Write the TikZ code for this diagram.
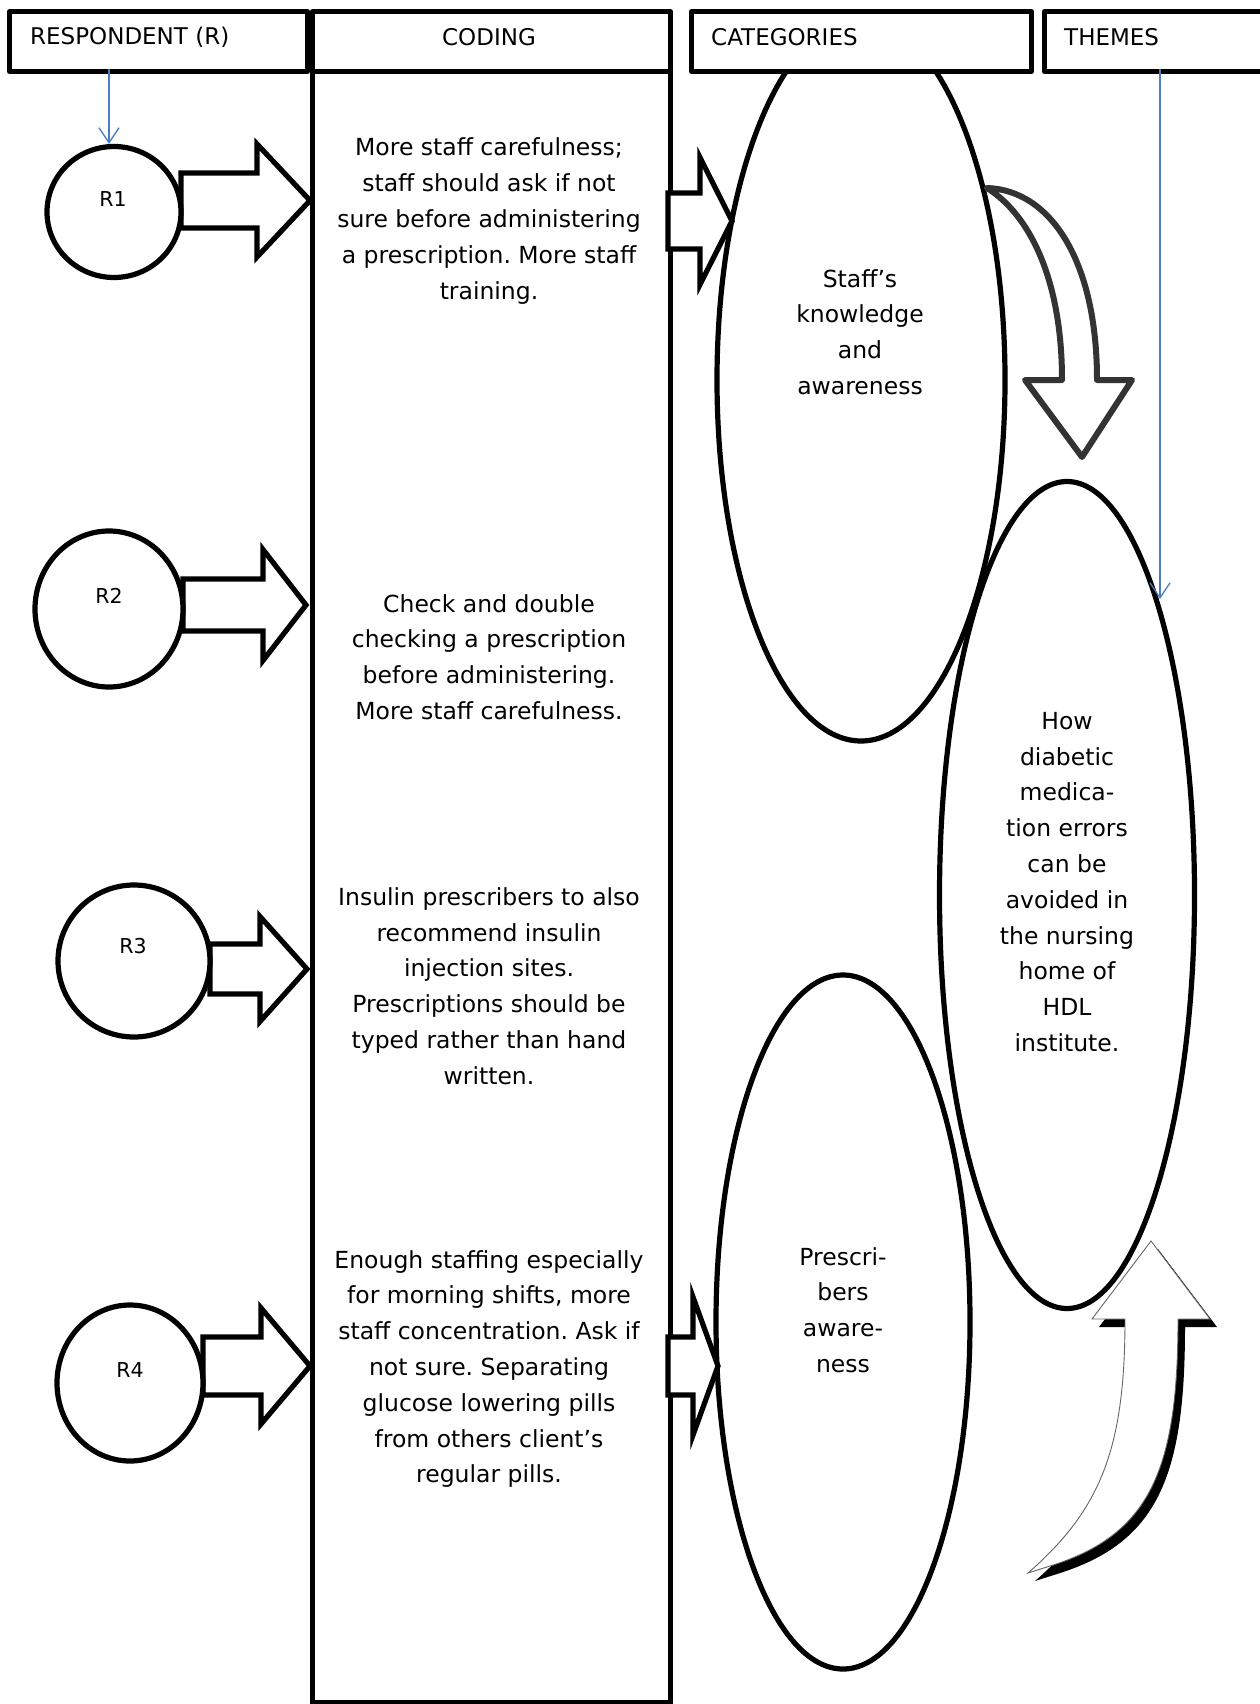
\documentclass[tikz,border=0pt]{standalone}
\usepackage{fontspec}
\setmainfont{DejaVu Sans}
\usetikzlibrary{shapes.geometric,arrows.meta}
\frenchspacing

\definecolor{linkblue}{RGB}{74,126,193}
\definecolor{arrowgray}{RGB}{51,51,51}

% right-pointing block arrow: x start, x of head base, x of tip, y centre, shaft half, head half
\newcommand\blockright[6]{%
  \draw[blockarrow] (#1,#4-#5) -- (#2,#4-#5) -- (#2,#4-#6) -- (#3,#4)
    -- (#2,#4+#6) -- (#2,#4+#5) -- (#1,#4+#5) -- cycle;}

\begin{document}
\begin{tikzpicture}[x=1pt,y=-1pt,
  hdrbox/.style={draw, fill=white, line width=5pt, line join=round, inner sep=0pt,
    minimum height=60pt, anchor=north west},
  hdrtext/.style={font=\fontsize{23}{28}\selectfont, inner sep=0pt},
  body/.style={font=\fontsize{23.5}{35.8}\selectfont, align=center, inner sep=0pt},
  resp/.style={draw, ellipse, line width=5.2pt, fill=white, inner sep=0pt},
  rlabel/.style={font=\fontsize{20.5}{24}\selectfont, inner sep=0pt},
  oval/.style={draw, ellipse, line width=5.2pt, inner sep=0pt},
  blockarrow/.style={draw, fill=white, line width=5.2pt, line join=miter},
  bluearrow/.style={draw=linkblue, line width=1.3pt,
    -{Straight Barb[length=15pt,width=20pt,line width=1.3pt]}},
  bendarrow/.style={draw=arrowgray, fill=white, line width=6pt, line join=round},
]
\useasboundingbox (0,0) rectangle (1259,1704);
\fill[white] (0,0) rectangle (1259,1704);

% category and theme ovals
\node[oval, minimum width=288pt, minimum height=722pt] (cat1) at (861,380) {};
\node[oval, minimum width=255pt, minimum height=827pt] (th1) at (1067,895) {};
\node[oval, minimum width=254pt, minimum height=694pt] (cat2) at (843,1322) {};

% column headers
\node[hdrbox, minimum width=298pt] (hR) at (7,9) {};
\node[hdrbox, minimum width=358pt] (hC) at (310,9) {};
\node[hdrbox, minimum width=340pt] (hK) at (689,9) {};
\node[hdrbox, minimum width=230pt] (hT) at (1042,9) {};
\node[hdrtext, anchor=west] (hRt) at (30,37) {RESPONDENT (R)};
\node[hdrtext] (hCt) at (489,37) {CODING};
\node[hdrtext, anchor=west] (hKt) at (711,37) {CATEGORIES};
\node[hdrtext, anchor=west] (hTt) at (1064,37) {THEMES};

% coding column
\node[draw, line width=5.2pt, inner sep=0pt, minimum width=358pt, minimum height=1631pt,
  anchor=north west] (col) at (310,69) {};

% respondents to coding
\blockright{181}{257}{310}{200.5}{27.5}{56.5}
\blockright{183}{263}{306}{605}{26}{55.5}
\blockright{210}{260}{307}{969}{25}{52.5}
\blockright{203}{261}{310}{1366}{29}{58}

\node[resp, minimum width=134pt, minimum height=131pt] (r1) at (114,212) {};
\node[resp, minimum width=148pt, minimum height=156pt] (r2) at (109,609) {};
\node[resp, minimum width=152pt, minimum height=152pt] (r3) at (134,961) {};
\node[resp, minimum width=146pt, minimum height=156pt] (r4) at (130,1383) {};
\node[rlabel] (r1t) at (113,199) {R1};
\node[rlabel] (r2t) at (109,596) {R2};
\node[rlabel] (r3t) at (133,946) {R3};
\node[rlabel] (r4t) at (130,1370) {R4};

% coding to categories
\blockright{668}{700}{732}{221}{28}{63.5}
\blockright{668}{693}{718}{1366}{29}{69}

% bent arrow from the first category down to the theme
\draw[bendarrow] (987,188) .. controls (1050,190) and (1097,260) .. (1097,380)
  -- (1132,380) -- (1082,457) -- (1025,380) -- (1062,380)
  .. controls (1062,280) and (1030,215) .. (987,188) -- cycle;

% rising arrow from the second category up to the theme, with its drop shadow
\fill[black, shift={(7,8)}] (1151,1241) -- (1210,1319) -- (1178,1319)
  .. controls (1178,1470) and (1150,1535) .. (1050,1566) -- (1028,1573)
  .. controls (1100,1510) and (1125,1450) .. (1125,1319) -- (1092,1319) -- cycle;
\draw[draw=black!60, fill=white, line width=0.9pt] (1151,1241) -- (1210,1319) -- (1178,1319)
  .. controls (1178,1470) and (1150,1535) .. (1050,1566) -- (1028,1573)
  .. controls (1100,1510) and (1125,1450) .. (1125,1319) -- (1092,1319) -- cycle;

% thin guide arrows
\coordinate (gR) at (109,69);
\draw[bluearrow] (gR) -- (gR |- r1.north);
\coordinate (gT) at (1160,69);
\coordinate (gTend) at (1160,599);
\draw[bluearrow] (gT) -- (gTend);

% coding texts
\node[body] (c1) at (489,221) {More staff carefulness;\\staff should ask if not\\sure before administering\\a prescription. More staff\\training.};
\node[body] (c2) at (489,657) {Check and double\\checking a prescription\\before administering.\\More staff carefulness.};
\node[body] (c3) at (489,986) {Insulin prescribers to also\\recommend insulin\\injection sites.\\Prescriptions should be\\typed rather than hand\\written.};
\node[body] (c4) at (489,1369) {Enough staffing especially\\for morning shifts, more\\staff concentration. Ask if\\not sure. Separating\\glucose lowering pills\\from others client’s\\regular pills.};

% category and theme texts
\node[body] (cat1t) at (860,332) {Staff’s\\knowledge\\and\\awareness};
\node[body] (cat2t) at (843,1310) {Prescri-\\bers\\aware-\\ness};
\node[body] (th1t) at (1067,882) {How\\diabetic\\medica-\\tion errors\\can be\\avoided in\\the nursing\\home of\\HDL\\institute.};
\end{tikzpicture}
\end{document}
